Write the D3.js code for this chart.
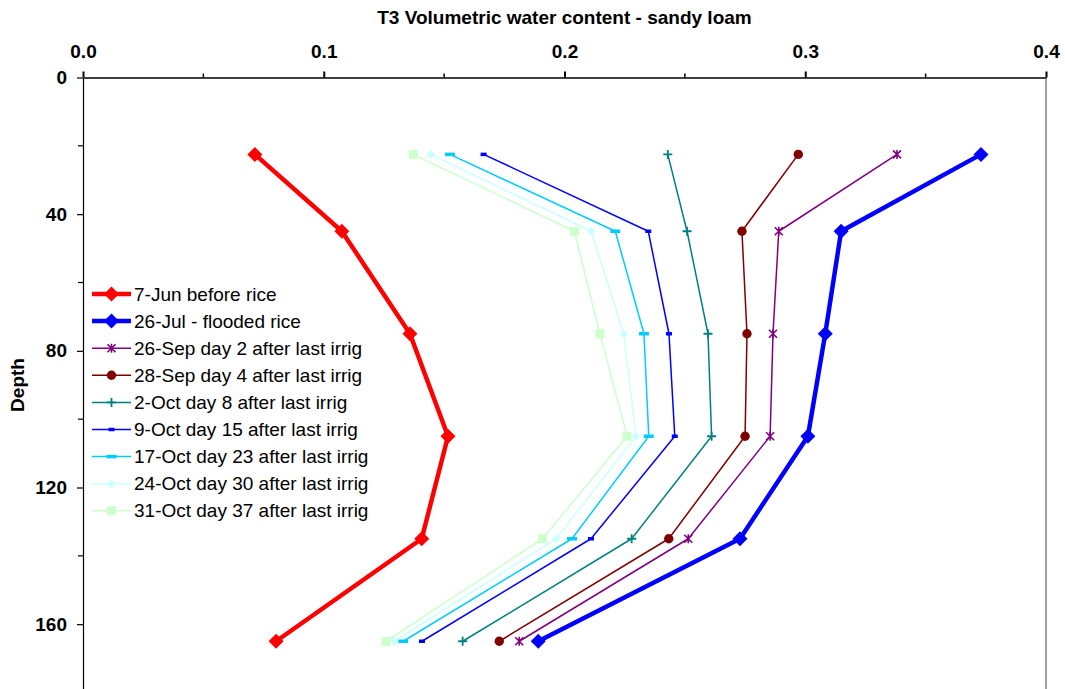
<!DOCTYPE html>
<html>
<head>
<meta charset="utf-8">
<script src="https://cdn.jsdelivr.net/npm/d3@7"></script>
<style>
  html, body { margin: 0; padding: 0; background: #fff; }
  svg { display: block; font-family: "Liberation Sans", Arial, sans-serif; }
</style>
</head>
<body>
<svg id="chart" width="1065" height="689"></svg>
<script>
// Sampling depths (shared by every profile)
const depths = [22.5, 45, 75, 105, 135, 165];

// Volumetric water content profiles, one array per sampling date
const jun7  = [0.0714, 0.1075, 0.1358, 0.1516, 0.1407, 0.0802];
const jul26 = [0.3730, 0.3149, 0.3083, 0.3011, 0.2729, 0.1891];
const sep26 = [0.3381, 0.2890, 0.2866, 0.2854, 0.2514, 0.1812];
const sep28 = [0.2971, 0.2737, 0.2758, 0.2750, 0.2433, 0.1729];
const oct2  = [0.2429, 0.2509, 0.2596, 0.2611, 0.2279, 0.1577];
const oct9  = [0.1664, 0.2348, 0.2434, 0.2458, 0.2110, 0.1408];
const oct17 = [0.1524, 0.2211, 0.2330, 0.2350, 0.2031, 0.1330];
const oct24 = [0.1444, 0.2111, 0.2246, 0.2297, 0.1965, 0.1293];
const oct31 = [0.1372, 0.2041, 0.2147, 0.2260, 0.1909, 0.1259];

const seriesLabels = [
  "7-Jun before rice",
  "26-Jul - flooded rice",
  "26-Sep day 2 after last irrig",
  "28-Sep day 4 after last irrig",
  "2-Oct day 8 after last irrig",
  "9-Oct day 15 after last irrig",
  "17-Oct day 23 after last irrig",
  "24-Oct day 30 after last irrig",
  "31-Oct day 37 after last irrig"
];
const seriesValues = [jun7, jul26, sep26, sep28, oct2, oct9, oct17, oct24, oct31];

// Axis ticks
const xTicks = [0, 0.1, 0.2, 0.3, 0.4];
const xMinorTicks = [0.05, 0.15, 0.25, 0.35];
const yTicks = [0, 40, 80, 120, 160];
const yMinorTicks = [20, 60, 100, 140, 180];

const titleText = "T3 Volumetric water content - sandy loam";
const yTitleText = "Depth";

// Line / marker styling per series
const styles = [
  { color: "#FF0000", width: 4.5, marker: "bigDiamond" },
  { color: "#0000FF", width: 4.5, marker: "bigDiamond" },
  { color: "#800080", width: 1.5, marker: "star" },
  { color: "#800000", width: 1.5, marker: "circle" },
  { color: "#008080", width: 1.5, marker: "plus" },
  { color: "#0000FF", width: 1.5, marker: "dash" },
  { color: "#00CCFF", width: 1.5, marker: "longDash" },
  { color: "#CCFFFF", width: 1.5, marker: "diamond" },
  { color: "#CCFFCC", width: 1.5, marker: "square" }
];

const FONT = 19;
const svg = d3.select("#chart");

const x = d3.scaleLinear().domain([0, 0.4]).range([83, 1046]);
const y = d3.scaleLinear().domain([0, 180]).range([77.5, 692.5]);

// Right frame edge
svg.append("line")
  .attr("x1", x(0.4)).attr("x2", x(0.4))
  .attr("y1", y(0)).attr("y2", y(180))
  .attr("stroke", "#a0a0a0").attr("stroke-width", 2);

// Top (value) axis
const xAxisG = svg.append("g").attr("transform", `translate(0,${y(0)})`)
  .call(d3.axisTop(x).tickValues(xTicks).tickFormat(d3.format(".1f"))
    .tickSize(6).tickSizeOuter(0).tickPadding(13.5));
xAxisG.select(".domain").attr("stroke", "#404040").attr("stroke-width", 2);
xAxisG.selectAll(".tick line").attr("stroke", "#000").attr("stroke-width", 2);
xAxisG.selectAll(".tick text")
  .attr("font-size", FONT).attr("font-weight", "bold").attr("fill", "#000")
  .attr("font-family", "Liberation Sans, Arial, sans-serif");
xAxisG.selectAll(".minor").data(xMinorTicks).enter().append("line")
  .attr("class", "minor")
  .attr("x1", d => x(d)).attr("x2", d => x(d))
  .attr("y1", 0).attr("y2", -4)
  .attr("stroke", "#000").attr("stroke-width", 1.5);

// Left (depth) axis
const yAxisG = svg.append("g").attr("transform", `translate(${x(0)},0)`)
  .call(d3.axisLeft(y).tickValues(yTicks).tickFormat(d3.format("d"))
    .tickSize(6).tickSizeOuter(0).tickPadding(10));
yAxisG.select(".domain").attr("stroke", "#000").attr("stroke-width", 1.2);
yAxisG.selectAll(".tick line").attr("stroke", "#000").attr("stroke-width", 1.2);
yAxisG.selectAll(".tick text")
  .attr("font-size", FONT).attr("font-weight", "bold").attr("fill", "#000")
  .attr("font-family", "Liberation Sans, Arial, sans-serif");
yAxisG.selectAll(".minor").data(yMinorTicks).enter().append("line")
  .attr("class", "minor")
  .attr("x1", 0).attr("x2", -5)
  .attr("y1", d => y(d)).attr("y2", d => y(d))
  .attr("stroke", "#000").attr("stroke-width", 1.2);

// Titles
svg.append("text")
  .attr("x", (x(0) + x(0.4)) / 2).attr("y", 24)
  .attr("text-anchor", "middle")
  .attr("font-size", FONT).attr("font-weight", "bold")
  .text(titleText);

svg.append("text")
  .attr("transform", `translate(24,${(y(0) + y(180)) / 2}) rotate(-90)`)
  .attr("text-anchor", "middle")
  .attr("font-size", FONT).attr("font-weight", "bold")
  .text(yTitleText);

// Marker drawing
function drawMarker(g, type, color, cx, cy) {
  switch (type) {
    case "bigDiamond": {
      const r = 7.5;
      g.append("path").attr("d", `M${cx},${cy - r}L${cx + r},${cy}L${cx},${cy + r}L${cx - r},${cy}Z`)
        .attr("fill", color);
      break;
    }
    case "diamond": {
      const r = 4.5;
      g.append("path").attr("d", `M${cx},${cy - r}L${cx + r},${cy}L${cx},${cy + r}L${cx - r},${cy}Z`)
        .attr("fill", color);
      break;
    }
    case "star": {
      const r = 4;
      g.append("path")
        .attr("d", `M${cx - r},${cy - r}L${cx + r},${cy + r}M${cx - r},${cy + r}L${cx + r},${cy - r}M${cx},${cy - r - 0.5}L${cx},${cy + r + 0.5}`)
        .attr("stroke", color).attr("stroke-width", 1.6).attr("fill", "none");
      break;
    }
    case "circle":
      g.append("circle").attr("cx", cx).attr("cy", cy).attr("r", 4.7).attr("fill", color);
      break;
    case "plus": {
      const r = 4.5;
      g.append("path")
        .attr("d", `M${cx - r},${cy}L${cx + r},${cy}M${cx},${cy - r}L${cx},${cy + r}`)
        .attr("stroke", color).attr("stroke-width", 1.8).attr("fill", "none");
      break;
    }
    case "dash":
      g.append("rect").attr("x", cx - 3).attr("y", cy - 1.75).attr("width", 6).attr("height", 3.5).attr("fill", color);
      break;
    case "longDash":
      g.append("rect").attr("x", cx - 5).attr("y", cy - 1.75).attr("width", 10).attr("height", 3.5).attr("fill", color);
      break;
    case "square":
      g.append("rect").attr("x", cx - 4.5).attr("y", cy - 4.5).attr("width", 9).attr("height", 9).attr("fill", color);
      break;
  }
}

// Profiles
const line = d3.line().x(d => x(d[0])).y(d => y(d[1]));
seriesValues.forEach((vals, i) => {
  const st = styles[i];
  const pts = vals.map((v, j) => [v, depths[j]]);
  const g = svg.append("g").attr("class", "series");
  g.append("path").attr("d", line(pts))
    .attr("fill", "none").attr("stroke", st.color)
    .attr("stroke-width", st.width).attr("stroke-linejoin", "round");
  pts.forEach(p => drawMarker(g, st.marker, st.color, x(p[0]), y(p[1])));
});

// Legend
const legend = svg.append("g").attr("class", "legend");
seriesLabels.forEach((label, i) => {
  const st = styles[i];
  const cy = 294 + i * 27.1;
  legend.append("line")
    .attr("x1", 92).attr("x2", 131).attr("y1", cy).attr("y2", cy)
    .attr("stroke", st.color).attr("stroke-width", st.width);
  drawMarker(legend, st.marker, st.color, 111.5, cy);
  legend.append("text")
    .attr("x", 134).attr("y", cy + 6.5)
    .attr("font-size", FONT).attr("fill", "#000")
    .text(label);
});
</script>
</body>
</html>
